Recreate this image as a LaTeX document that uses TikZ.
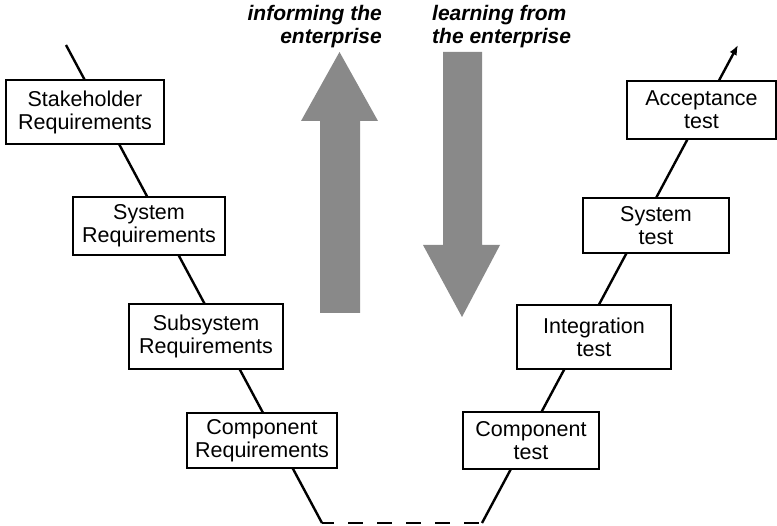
\documentclass[tikz,border=0pt]{standalone}
\usepackage{fontspec}
\setmainfont{Liberation Sans}
\usetikzlibrary{arrows.meta}
\definecolor{gris}{RGB}{137,137,137}

\begin{document}
\begin{tikzpicture}[x=1pt,y=-1pt]
	\tikzstyle{lien}=[-,line width=2.4pt]
	\tikzset{bloc/.style={draw,fill=white,line width=2pt,align=center,inner sep=0pt,font=\fontsize{21.5}{23}\selectfont},
		titre/.style={inner sep=0pt,font=\bfseries\itshape\fontsize{21}{23}\selectfont}}
	\useasboundingbox (0,0) rectangle (777,526);
	\coordinate (v0) at (66,45);
	\coordinate (v1) at (322,523);
	\coordinate (v2) at (482,523);
	\coordinate (v3) at (738,45);
	\draw[lien] (v0) -- (v1);
	\draw[lien,dash pattern=on 15pt off 14pt,dash phase=3pt] (v1) -- (v2);
	\draw[lien,-{Latex[length=10pt,width=8pt]}] (v2) -- (v3);
	% left branch
	\node[bloc,minimum width=158pt,minimum height=64pt] (sreq) at (85,112) {Stakeholder\\Requirements};
	\node[bloc,minimum width=152pt,minimum height=58pt] (sysreq) at (149,226) {System\\Requirements};
	\node[bloc,minimum width=154pt,minimum height=65pt] (subreq) at (206,336.5) {Subsystem\\Requirements};
	\node[bloc,minimum width=150pt,minimum height=55pt] (compreq) at (262,440.5) {Component\\Requirements};
	% right branch
	\node[bloc,minimum width=136pt,minimum height=57pt] (comptest) at (531,441) {Component\\test};
	\node[bloc,minimum width=154pt,minimum height=64pt] (inttest) at (594,337) {Integration\\test};
	\node[bloc,minimum width=146pt,minimum height=55pt] (systest) at (656,226) {System\\test};
	\node[bloc,minimum width=149pt,minimum height=58pt] (acctest) at (701.5,110) {Acceptance\\test};
	% big arrows
	\fill[gris] (320,313) -- (320,121) -- (301,121) -- (339.5,52) -- (378,121) -- (360,121) -- (360,313) -- cycle;
	\fill[gris] (443,52) -- (482,52) -- (482,245) -- (500,245) -- (462,317) -- (423,245) -- (443,245) -- cycle;
	\node[titre,anchor=north east,align=right] (inf) at (382,4.6) {informing the\\enterprise};
	\node[titre,anchor=north west,align=left] (lrn) at (432,4.6) {learning from\\the enterprise};
\end{tikzpicture}
\end{document}
